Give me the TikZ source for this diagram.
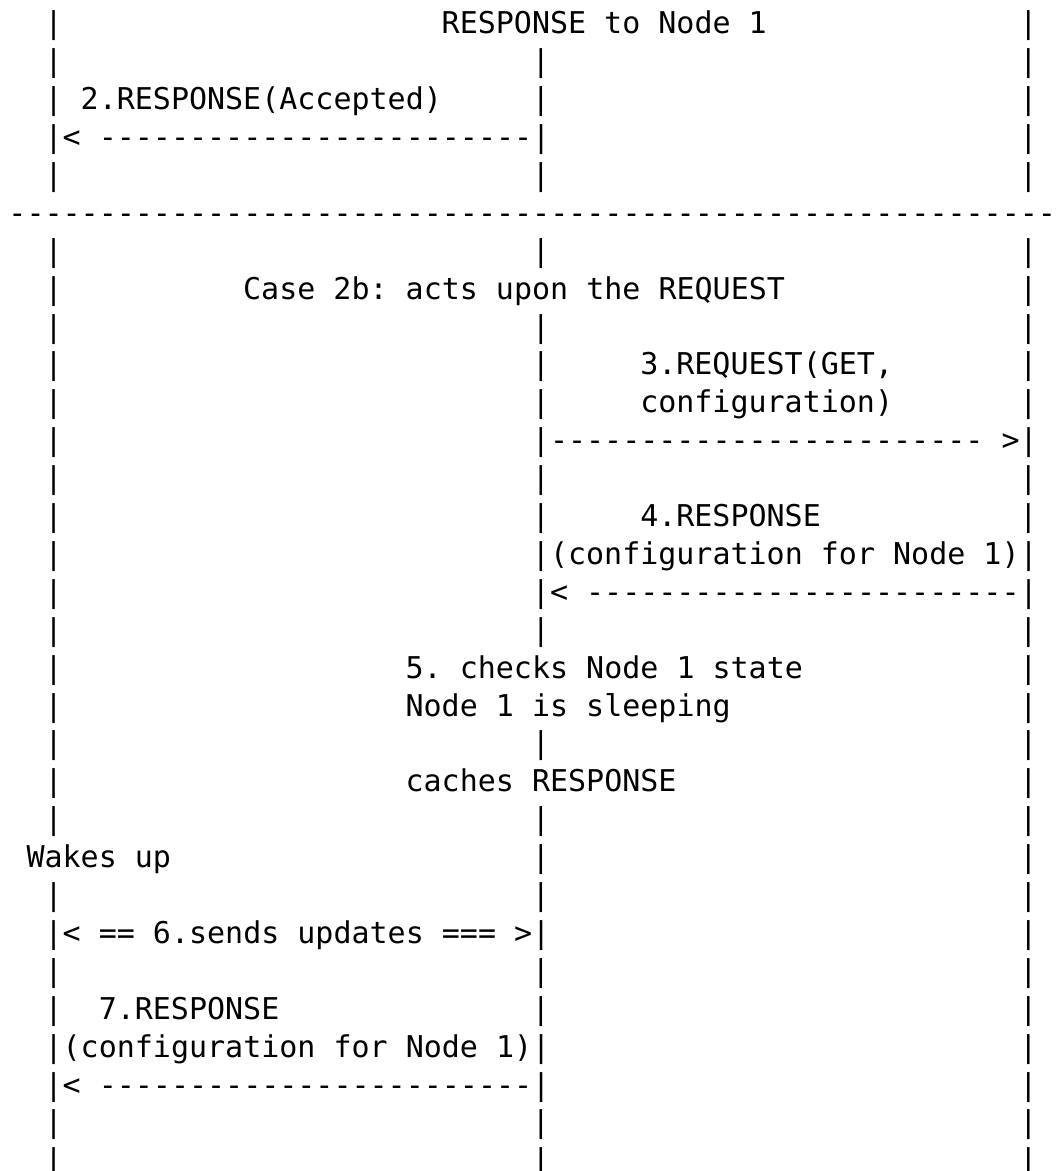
\documentclass[tikz,border=0pt]{standalone}
\usepackage{fontspec}
\setmonofont{DejaVu Sans Mono}
\begin{document}
\begin{tikzpicture}[x=1pt,y=1pt,
  txt/.style={anchor=base west, inner sep=0pt, outer sep=0pt, text=black,
              font=\ttfamily\fontsize{30}{36}\selectfont}]
\useasboundingbox (0,0) rectangle (1058,-1171);
\clip (0,0) rectangle (1058,-1171);
\fill[white] (0,0) rectangle (1058,-1171);
\newcommand\asciitx[4]{\node[txt] (#1) at ({8.5+#3*18.05},{-33.8-#2*37.9}) {#4};}
\newcommand\asciibars[2]{\foreach \c in {#2} {\node[txt] (b#1-\c) at ({8.5+\c*18.05},{-33.8-#1*37.9}) {|};}}
% row 0
\asciibars{0}{2,56}
\asciitx{t0}{0}{24}{RESPONSE to Node 1}
\asciibars{1}{2,29,56}
\asciibars{2}{2,29,56}
\asciitx{t2}{2}{4}{2.RESPONSE(Accepted)}
\asciibars{3}{56}
\asciitx{t3}{3}{2}{|< ------------------------|}
\asciibars{4}{2,29,56}
\asciitx{sep}{5}{0}{------------------------------------------------------------}
\asciibars{6}{2,29,56}
\asciibars{7}{2,56}
\asciitx{t7}{7}{13}{Case 2b: acts upon the REQUEST}
\asciibars{8}{2,29,56}
\asciibars{9}{2,29,56}
\asciitx{t9}{9}{35}{3.REQUEST(GET,}
\asciibars{10}{2,29,56}
\asciitx{t10}{10}{35}{configuration)}
\asciibars{11}{2}
\asciitx{t11}{11}{29}{|------------------------ >|}
\asciibars{12}{2,29,56}
\asciibars{13}{2,29,56}
\asciitx{t13}{13}{35}{4.RESPONSE}
\asciibars{14}{2}
\asciitx{t14}{14}{29}{|(configuration for Node 1)|}
\asciibars{15}{2}
\asciitx{t15}{15}{29}{|< ------------------------|}
\asciibars{16}{2,29,56}
\asciibars{17}{2,56}
\asciitx{t17}{17}{22}{5. checks Node 1 state}
\asciibars{18}{2,56}
\asciitx{t18}{18}{22}{Node 1 is sleeping}
\asciibars{19}{2,29,56}
\asciibars{20}{2,56}
\asciitx{t20}{20}{22}{caches RESPONSE}
\asciibars{21}{2,29,56}
\asciibars{22}{29,56}
\asciitx{t22}{22}{1}{Wakes up}
\asciibars{23}{2,29,56}
\asciibars{24}{56}
\asciitx{t24}{24}{2}{|< == 6.sends updates === >|}
\asciibars{25}{2,29,56}
\asciibars{26}{2,29,56}
\asciitx{t26}{26}{5}{7.RESPONSE}
\asciibars{27}{56}
\asciitx{t27}{27}{2}{|(configuration for Node 1)|}
\asciibars{28}{56}
\asciitx{t28}{28}{2}{|< ------------------------|}
\asciibars{29}{2,29,56}
\asciibars{30}{2,29,56}
\end{tikzpicture}
\end{document}
